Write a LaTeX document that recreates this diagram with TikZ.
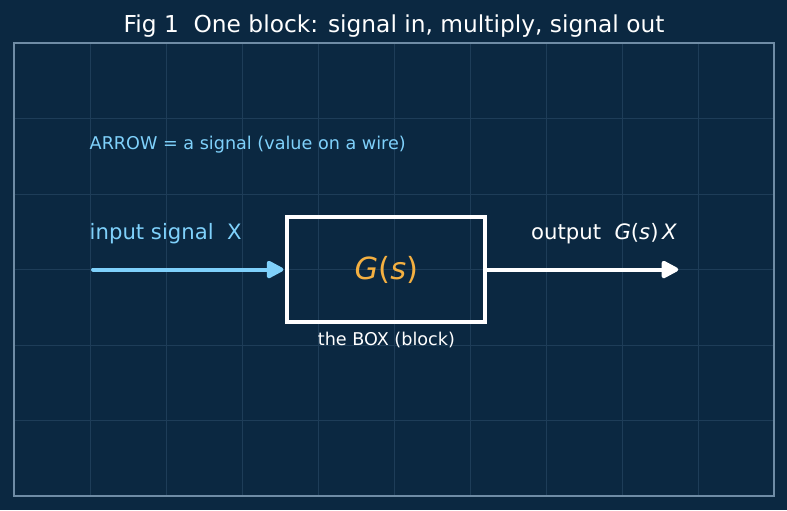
\documentclass[tikz,border=0pt]{standalone}
\usepackage{fontspec}
\setmainfont{DejaVu Sans}
\usetikzlibrary{arrows.meta}
\definecolor{navybg}{HTML}{0B2841}
\definecolor{gridblue}{HTML}{1E3D58}
\definecolor{framegray}{HTML}{6F8CA5}
\definecolor{wireblue}{HTML}{7FD1FB}
\definecolor{gainorange}{HTML}{F4B041}

\begin{document}
\begin{tikzpicture}[x=76pt, y=75.5pt, >={Triangle[length=19pt,width=19pt,round]}]
        \fill[navybg] (-0.184,-0.185) rectangle (10.171,6.570);
        \useasboundingbox (-0.184,-0.185) rectangle (10.171,6.570);
        % grid
        \foreach \gx in {1,...,9}
          \draw[gridblue, line width=0.8pt] (\gx,0) -- (\gx,6);
        \foreach \gy in {1,...,5}
          \draw[gridblue, line width=0.8pt] (0,\gy) -- (10,\gy);
        \draw[framegray, line width=1.5pt] (0,0) rectangle (10,6);
        \node[font=\fontsize{23.3}{27}\selectfont, white]
          (TTL) at (5, 6.22) {Fig 1\ \ One block: signal in, multiply, signal out};
        \node[draw=white, line width=4pt, minimum width=198pt, minimum height=105pt,
              font=\fontsize{30.5}{35}\selectfont, text=gainorange]
          (BOX) at (4.9, 3) {\textit{G}(\textit{s})};
        \node[font=\fontsize{17.6}{21}\selectfont, white, below=5pt]
          (CAP) at (BOX.south) {the BOX (block)};
        \node[font=\fontsize{17.6}{21}\selectfont, wireblue, anchor=west]
          (NOTE) at (0.95, 4.66) {ARROW = a signal (value on a wire)};
        \node[font=\fontsize{21.2}{25}\selectfont, wireblue, anchor=west]
          (INLBL) at (0.95, 3.47) {input signal\ \ X};
        \node[font=\fontsize{21.2}{25}\selectfont, white, anchor=east]
          (OUTLBL) at (8.77, 3.47) {output\ \ \textit{G}(\textit{s})\,\textit{X}};
        \coordinate (IN) at (1.04, 3);
        \coordinate (OUT) at (8.74, 3);
        \draw[->, wireblue, line width=4pt, line cap=round] (IN) -- ([xshift=-2pt]BOX.west);
        \draw[->, white, line width=4pt] (BOX.east) -- (OUT);
      \end{tikzpicture}
\end{document}
